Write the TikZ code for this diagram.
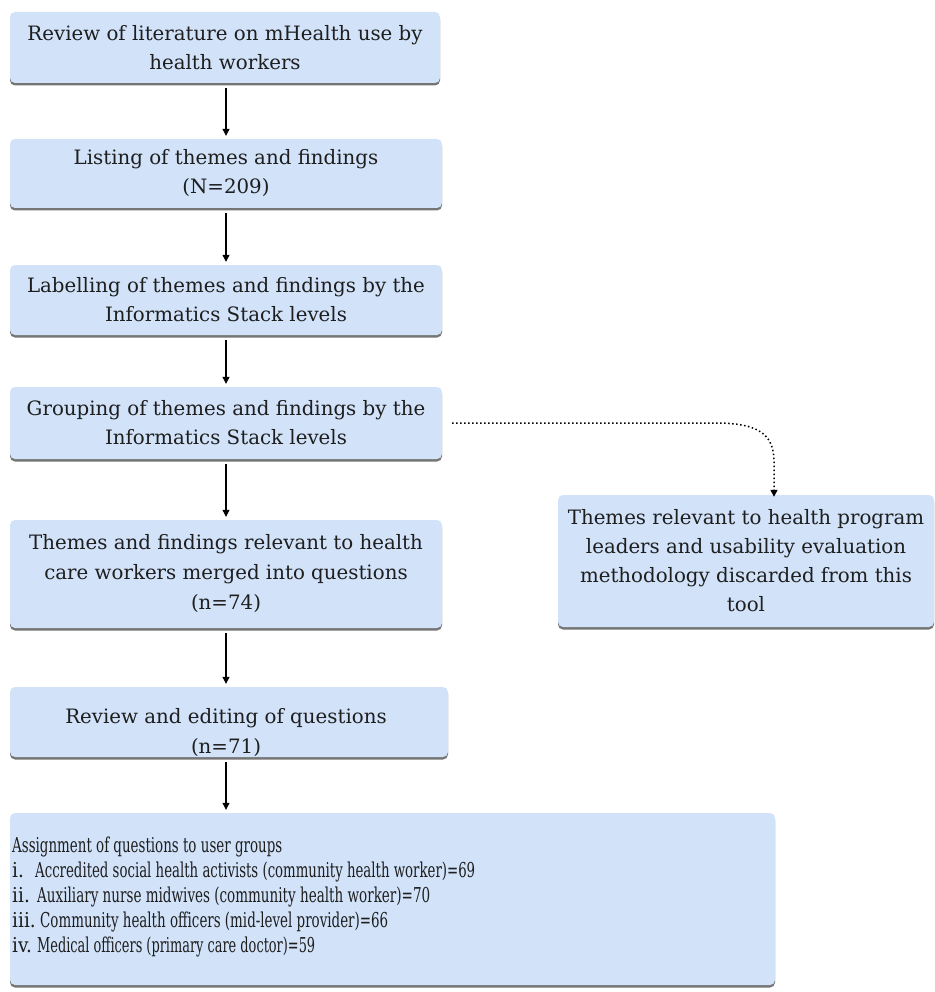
\documentclass[tikz,border=0pt]{standalone}
\usepackage{graphicx}
\usepackage{fontspec}
\setmainfont{DejaVu Serif}
\newfontfamily\condfont{DejaVu Serif Condensed}
\usetikzlibrary{arrows.meta,shadows}
\definecolor{boxblue}{RGB}{209,226,249}
\definecolor{txt}{RGB}{30,30,30}
\tikzset{
  box/.style={rectangle, rounded corners=5pt, fill=boxblue, inner sep=0pt,
    align=center, text=txt, font=\fontsize{19.8}{29}\selectfont,
    drop shadow={shadow xshift=0pt, shadow yshift=-2.5pt, fill=black!60, opacity=0.9}},
  lbl/.style={inner sep=0pt, text=txt},
  arr/.style={-{Triangle[length=7pt,width=7pt]}, line width=1.1pt, black, shorten <=5pt, shorten >=3pt},
  dotarr/.style={-{Triangle[length=7pt,width=7pt]}, line width=1.5pt, black, dash pattern=on 1.5pt off 2.5pt}
}
\begin{document}
\begin{tikzpicture}[x=1pt,y=-1pt]
\useasboundingbox (0,0) rectangle (934,992);
\coordinate (ax) at (226,0);
\node[box, minimum width=430pt, minimum height=71pt] (b1) at (225,47.5)
  {Review of literature on mHealth use by\\health workers};
\node[box, minimum width=432pt, minimum height=69pt] (b2) at (226,173.5)
  {Listing of themes and findings\\(N=209)};
\node[box, minimum width=432pt, minimum height=70pt] (b3) at (226,300)
  {Labelling of themes and findings by the\\Informatics Stack levels};
\node[box, minimum width=432pt, minimum height=72pt] (b4) at (226,423)
  {Grouping of themes and findings by the\\Informatics Stack levels};
\node[box, minimum width=432pt, minimum height=108pt, font=\fontsize{19.8}{30}\selectfont] (b5) at (226,574)
  {Themes and findings relevant to health\\care workers merged into questions\\(n=74)};
\node[box, minimum width=438pt, minimum height=70pt] (b6) at (229,722) {};
\node[lbl, align=center, font=\fontsize{19.8}{30}\selectfont] (b6t) at (226,733)
  {Review and editing of questions\\(n=71)};
\node[box, minimum width=765pt, minimum height=172pt] (b7) at (392.5,899) {};
\node[lbl, anchor=north west, align=left, font=\condfont\fontsize{20.5}{25}\selectfont] (b7t) at (12,837)
  {\resizebox{270pt}{\height}{Assignment of questions to user groups}\\
   \makebox[23pt][l]{i.}\resizebox{440pt}{\height}{Accredited social health activists (community health worker)=69}\\
   \makebox[25pt][l]{ii.}\resizebox{393pt}{\height}{Auxiliary nurse midwives (community health worker)=70}\\
   \makebox[28pt][l]{iii.}\resizebox{348pt}{\height}{Community health officers (mid-level provider)=66}\\
   \makebox[25pt][l]{iv.}\resizebox{278pt}{\height}{Medical officers (primary care doctor)=59}};
\node[box, minimum width=376pt, minimum height=132pt] (b8) at (746,561)
  {Themes relevant to health program\\leaders and usability evaluation\\methodology discarded from this\\tool};
\draw[arr] (b1.south -| ax) -- (b2.north -| ax);
\draw[arr] (b2.south -| ax) -- (b3.north -| ax);
\draw[arr] (b3.south -| ax) -- (b4.north -| ax);
\draw[arr] (b4.south -| ax) -- (b5.north -| ax);
\draw[arr] (b5.south -| ax) -- (b6.north -| ax);
\draw[arr] (b6.south -| ax) -- (b7.north -| ax);
\draw[dotarr] ([xshift=10pt]b4.east) -- (715,423)
  .. controls (760,423) and (774,435) .. (774,462) -- ([xshift=28pt,yshift=-2pt]b8.north);
\end{tikzpicture}
\end{document}
